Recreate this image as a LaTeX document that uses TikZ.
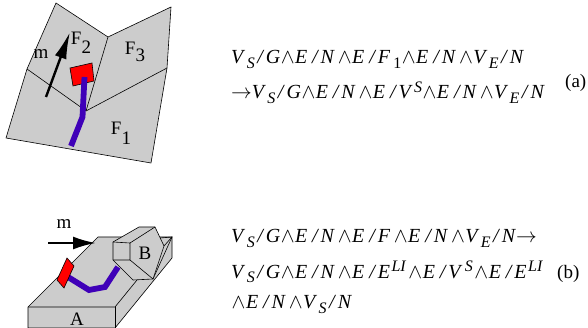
\documentclass[tikz,border=0pt]{standalone}
\usepackage{fontspec}
\setmainfont{Liberation Serif}
\usetikzlibrary{arrows.meta}
\newcommand{\Wd}{\kern0.5pt\ensuremath{\wedge}\kern0.5pt}
\newcommand{\Lo}[1]{\raisebox{-5pt}{\fontsize{16}{16}\selectfont #1}}
\newcommand{\Up}[1]{\raisebox{6.5pt}{\fontsize{16}{16}\selectfont #1}}
\newcommand{\Li}{\kern1.5pt\Up{\textit{LI}}\kern1.5pt}
\newcommand{\Vs}{\textit{V\,}\Lo{\textit{S}}\kern1pt}
\newcommand{\Ve}{\textit{V\,}\Lo{\textit{E}}\kern1pt}
\newcommand{\Sl}{\kern1.5pt\textit{/}\kern1.5pt}
\definecolor{facegray}{gray}{0.8}
\definecolor{pathblue}{HTML}{3F00B8}
\tikzset{
  face/.style={draw=black,fill=facegray,line width=0.6pt,line join=round},
  crease/.style={draw=black,line width=0.6pt},
  redpad/.style={draw=black,fill=red,line width=0.6pt},
  bluepath/.style={draw=pathblue,line width=5.8pt,line join=miter},
  motion/.style={draw=black,line width=2.4pt},
  motiona/.style={motion,-{Latex[length=27pt,width=12pt]}},
  motionb/.style={motion,-{Latex[length=23pt,width=13pt]}},
  lab/.style={inner sep=0pt,anchor=base,font=\fontsize{19}{19}\selectfont},
  eqn/.style={inner sep=0pt,anchor=base west,font=\fontsize{20}{20}\selectfont},
  tag/.style={inner sep=0pt,anchor=base west,font=\fontsize{19}{19}\selectfont}
}
\begin{document}
\begin{tikzpicture}[x=1pt,y=-1pt]
\useasboundingbox (0,0) rectangle (588,328);
\fill[white] (0,0) rectangle (588,328);
% figure (a)
\path[face] (56,3) -- (108,37) -- (171,7) -- (167,68) -- (151,163) -- (6,138) -- (27,69) -- cycle;
\draw[crease] (27,69) -- (82,108);
\draw[crease] (108,37) -- (86,111);
\draw[crease] (82,108) -- (86,111) -- (167,68);
\draw[redpad] (70,68) -- (92,63) -- (94,81) -- (73,86) -- cycle;
\draw[bluepath] (84.5,77) -- (82.5,117) -- (71,146);
\draw[motiona] (46,97) -- (70,32);
\node[lab] (m1) at (41,59) {m};
\node[lab] (f2) at (81,45) {F\raisebox{-9pt}{2}};
\node[lab] (f3) at (135,55) {F\raisebox{-7pt}{3}};
\node[lab] (f1) at (121,135) {F\raisebox{-10pt}{1}};
% figure (b)
\path[face] (28,307) -- (98,237) -- (172,237) -- (172,258) -- (115,328) -- (28,328) -- cycle;
\draw[crease] (28,307) -- (115,307) -- (137,280);
\draw[crease] (115,307) -- (115,328);
\draw[crease] (153,279) -- (172,237);
\path[face] (113,242) -- (139,227) -- (155,227) -- (164,246) -- (153,279) -- (133,280) -- (113,260) -- cycle;
\draw[crease] (113,242) -- (130,243) -- (130,260) -- (113,260);
\draw[crease] (130,243) -- (155,227);
\draw[crease] (130,260) -- (153,279);
\draw[crease] (164,246) -- (172,237) -- (160,238);
\draw[bluepath] (68,277) -- (89,290) -- (105,287) -- (118,267);
\draw[redpad] (67,258) -- (74,266) -- (64,288) -- (57,280) -- cycle;
\draw[motionb] (48,243) -- (96,243);
\node[lab] (m2) at (64,229) {m};
\node[lab] (blockb) at (145,260) {B};
\node[lab] (blocka) at (77,325) {A};
% equations (a)
\node[eqn] (eqa1) at (231,64) {\Vs\Sl\textit{G}\Wd\textit{E\,}\Sl\textit{N\,}\Wd\textit{E\,}\Sl\textit{F\,}\Lo{1}\Wd\textit{E\,}\Sl\textit{N\,}\Wd\Ve\Sl\textit{N}};
\node[eqn] (eqa2) at (231,99) {\ensuremath{\to}\Vs\Sl\textit{G}\Wd\textit{E\,}\Sl\textit{N\,}\Wd\textit{E\,}\Sl\textit{V\,}\Up{\textit{S}}\Wd\textit{E\,}\Sl\textit{N\,}\Wd\Ve\Sl\textit{N}};
\node[tag] (taga) at (565,88) {(a)};
% equations (b)
\node[eqn] (eqb1) at (231,243) {\Vs\Sl\textit{G}\Wd\textit{E\,}\Sl\textit{N\,}\Wd\textit{E\,}\Sl\textit{F\,}\Wd\textit{E\,}\Sl\textit{N\,}\Wd\Ve\Sl\textit{N}\ensuremath{\to}};
\node[eqn] (eqb2) at (231,278) {\Vs\Sl\textit{G}\Wd\textit{E\,}\Sl\textit{N\,}\Wd\textit{E\,}\Sl\textit{E}\Li\Wd\textit{E\,}\Sl\textit{V\,}\kern1pt\Up{\textit{S}}\kern1pt\Wd\textit{E\,}\Sl\textit{E}\Li};
\node[eqn] (eqb3) at (231,308) {\Wd\textit{E\,}\Sl\textit{N\,}\Wd\Vs\Sl\textit{N}};
\node[tag] (tagb) at (557,278) {(b)};
\end{tikzpicture}
\end{document}
